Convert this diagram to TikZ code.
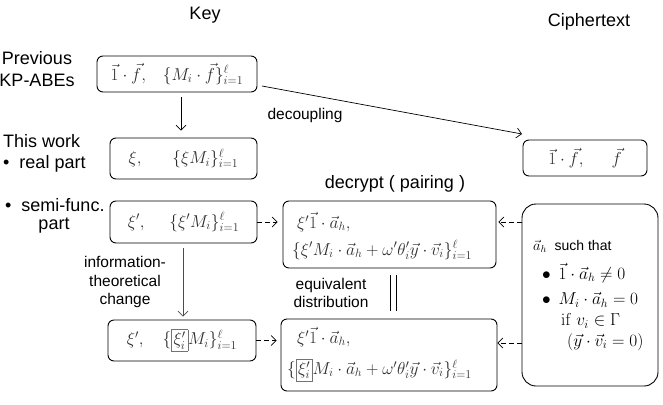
\documentclass[tikz,border=0pt]{standalone}
\usepackage[no-math]{fontspec}
\setmainfont{Liberation Sans}
\usepackage{amsmath}
\usetikzlibrary{arrows.meta}
\newcommand{\gbox}[1]{{\setlength{\fboxsep}{2pt}\fcolorbox{black!55}{white}{$#1$}}}
\begin{document}
\begin{tikzpicture}[x=1pt,y=-1pt,
  lbl/.style={font=\fontsize{18}{22}\selectfont, align=center, inner sep=0pt},
  sml/.style={font=\fontsize{15.5}{18.5}\selectfont, align=center, inner sep=0pt},
  kbox/.style={draw, line width=0.9pt, rounded corners=6pt, inner sep=0pt, text=black!82,
    font=\fontsize{18}{21}\selectfont},
  mth/.style={text=black!82, font=\fontsize{18}{21}\selectfont, inner sep=0pt, anchor=west},
  mthl/.style={mth, font=\fontsize{17}{20}\selectfont},
  arr/.style={-{Straight Barb[length=5pt,width=10pt]}, line width=0.7pt},
  darr/.style={arr, dash pattern=on 5pt off 3pt}
]
\useasboundingbox (0,0) rectangle (663,404);

% headers
\node[lbl] (key) at (205,15) {Key};
\node[lbl] (ctx) at (589,22) {Ciphertext};
\node[lbl] (prev) at (37,69) {Previous\\KP-ABEs};
\node[lbl, anchor=west] (thiswork) at (3,141) {This work};
\node[lbl, anchor=west] (real) at (3,164) {\textbullet\ \ real part};
\node[lbl, anchor=west] (semi) at (5,205) {\textbullet\ \ semi-func.};
\node[lbl] (part) at (54,226) {part};

% key boxes
\node[kbox, minimum width=160pt, minimum height=36pt] (b1) at (177,74)
  {$\vec{1}\cdot\vec{f},\hspace{14pt}\{M_i\cdot\vec{f}\}_{i=1}^{\ell}$};
\node[kbox, minimum width=147pt, minimum height=41pt] (b2) at (183.5,158.5)
  {$\xi,\hspace{28pt}\{\xi M_i\}_{i=1}^{\ell}$};
\node[kbox, minimum width=147pt, minimum height=42pt] (b3) at (183.5,222)
  {$\xi',\hspace{22pt}\{\xi' M_i\}_{i=1}^{\ell}$};
\node[kbox, minimum width=148pt, minimum height=41pt] (b4) at (182,340.5)
  {$\xi',\hspace{16pt}\{\gbox{\xi'_i}M_i\}_{i=1}^{\ell}$};

% ciphertext box
\node[kbox, minimum width=124pt, minimum height=36pt] (c) at (585,158)
  {$\vec{1}\cdot\vec{f},\hspace{25pt}\vec{f}$};

% decrypt boxes
\node[kbox, minimum width=213pt, minimum height=67pt] (d1) at (389.5,234.5) {};
\node[mth] (d1a) at (297,222) {$\xi'\vec{1}\cdot\vec{a}_h,$};
\node[mthl] (d1b) at (292,250) {$\{\xi' M_i\cdot\vec{a}_h+\omega'\theta'_i\vec{y}\cdot\vec{v}_i\}_{i=1}^{\ell}$};
\node[kbox, minimum width=216pt, minimum height=72pt] (d2) at (389,355) {};
\node[mth] (d2a) at (297,337) {$\xi'\vec{1}\cdot\vec{a}_h,$};
\node[mthl] (d2b) at (287,370) {$\{\gbox{\xi'_i}M_i\cdot\vec{a}_h+\omega'\theta'_i\vec{y}\cdot\vec{v}_i\}_{i=1}^{\ell}$};

% condition box
\node[kbox, rounded corners=14pt, minimum width=136pt, minimum height=182pt] (r) at (590,295) {};
\node[mth, text=black, font=\fontsize{14}{16}\selectfont] (r1) at (533,246) {$\vec{a}_h$\ \ such that};
\node[mth, text=black] (r2) at (542,273) {$\bullet\ \,\vec{1}\cdot\vec{a}_h\neq 0$};
\node[mth, text=black] (r3) at (542,300) {$\bullet\ \,M_i\cdot\vec{a}_h=0$};
\node[mth, text=black] (r4) at (561,321) {$\mathrm{if}\ v_i\in\Gamma$};
\node[mth, text=black] (r5) at (567,342) {$(\vec{y}\cdot\vec{v}_i=0)$};

% labels
\node[sml] (dec) at (305,115) {decoupling};
\node[lbl] (decl) at (395,184) {decrypt ( pairing )};
\node[sml] (eqd) at (331,293) {equivalent\\distribution};
\node[sml] (itc) at (125,282) {information-\\theoretical\\change};

% helper coordinates
\coordinate (x1) at (181,0);
\coordinate (x2) at (183,0);
\coordinate (decs) at (262,86);
\coordinate (dece) at (522,134);

% connectors
\draw[arr, shorten <=5pt, shorten >=7pt] (b1.south -| x1) -- (b2.north -| x1);
\draw[arr, black!70, shorten <=5pt, shorten >=3pt] (b3.south -| x2) -- (b4.north -| x2);
\draw[arr] (decs) -- (dece);
\draw[darr, shorten >=5pt] (b3.east) -- (b3.east -| d1.west);
\draw[darr, shorten >=4pt] (b4.east) -- (b4.east -| d2.west);
\draw[darr, shorten >=2pt] (r.west |- b3.east) -- (d1.east |- b3.east);
\draw[darr, shorten >=0pt] ([yshift=-2.5pt]r.west |- b4.east) -- ([yshift=-2.5pt]d2.east |- b4.east);
\draw[line width=0.9pt, shorten <=7pt, shorten >=8pt] ([xshift=0.5pt]d1.south) -- ([xshift=1pt]d2.north);
\draw[line width=0.9pt, shorten <=7pt, shorten >=8pt] ([xshift=6.5pt]d1.south) -- ([xshift=7pt]d2.north);
\end{tikzpicture}
\end{document}
